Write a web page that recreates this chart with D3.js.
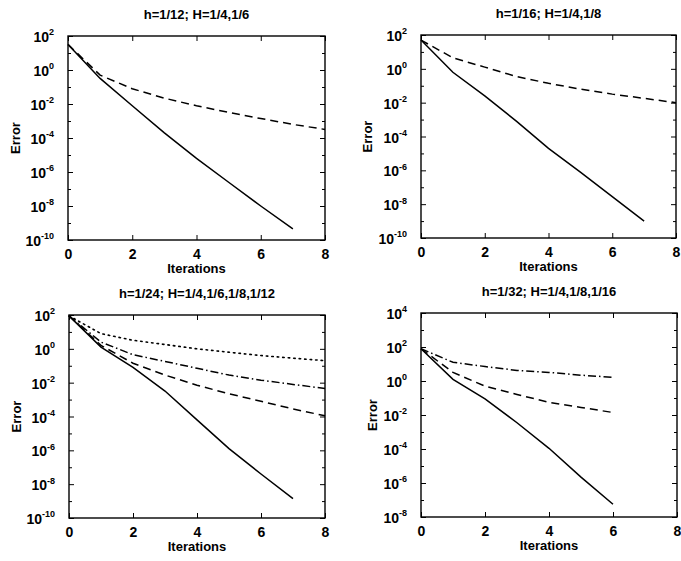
<!DOCTYPE html>
<html>
<head>
<meta charset="utf-8">
<script src="https://cdn.jsdelivr.net/npm/d3@7/dist/d3.min.js"></script>
<style>
  html, body { margin: 0; padding: 0; background: #fff; }
  svg { display: block; }
  text { font-family: "Liberation Sans", Arial, Helvetica, sans-serif; font-weight: bold; fill: #000; }
</style>
</head>
<body>
<svg id="chart" width="681" height="561"></svg>
<script>
// ---------------- data ----------------
const xTickValues = [0, 2, 4, 6, 8];
const xLabel = "Iterations";
const yLabel = "Error";

// Panel 1: h=1/12; H=1/4,1/6
const p1Title = "h=1/12; H=1/4,1/6";
const p1Iter = [0, 1, 2, 3, 4, 5, 6, 7, 8];
const p1Solid = [32, 0.32, 7.9e-3, 2e-4, 6.3e-6, 2.5e-7, 1e-8, 4.5e-10];
const p1Dashed = [32, 0.5, 7.9e-2, 2.2e-2, 7.9e-3, 3.2e-3, 1.4e-3, 6.3e-4, 3.2e-4];
const p1YTicks = [1e2, 1e0, 1e-2, 1e-4, 1e-6, 1e-8, 1e-10];

// Panel 2: h=1/16; H=1/4,1/8
const p2Title = "h=1/16; H=1/4,1/8";
const p2Iter = [0, 1, 2, 3, 4, 5, 6, 7, 8];
const p2Solid = [50, 0.63, 2.5e-2, 7.9e-4, 2e-5, 7.9e-7, 2.8e-8, 1e-9];
const p2Dashed = [50, 4.5, 1.26, 0.35, 0.14, 6.3e-2, 3.2e-2, 1.8e-2, 1e-2];
const p2YTicks = [1e2, 1e0, 1e-2, 1e-4, 1e-6, 1e-8, 1e-10];

// Panel 3: h=1/24; H=1/4,1/6,1/8,1/12
const p3Title = "h=1/24; H=1/4,1/6,1/8,1/12";
const p3Iter = [0, 1, 2, 3, 4, 5, 6, 7, 8];
const p3Solid = [89, 1.26, 7.9e-2, 3.2e-3, 6.3e-5, 1.26e-6, 4e-8, 1.4e-9];
const p3Dashed = [89, 1.6, 0.14, 2.8e-2, 7.1e-3, 2.2e-3, 7.9e-4, 2.8e-4, 1.1e-4];
const p3DashDot = [89, 2.5, 0.45, 0.18, 7.1e-2, 2.8e-2, 1.4e-2, 7.9e-3, 4.5e-3];
const p3Dotted = [89, 7.9, 3.2, 1.8, 1.0, 0.63, 0.4, 0.28, 0.2];
const p3YTicks = [1e2, 1e0, 1e-2, 1e-4, 1e-6, 1e-8, 1e-10];

// Panel 4: h=1/32; H=1/4,1/8,1/16
const p4Title = "h=1/32; H=1/4,1/8,1/16";
const p4Iter = [0, 1, 2, 3, 4, 5, 6];
const p4Solid = [79, 1.26, 8.9e-2, 3.5e-3, 1.1e-4, 2.2e-6, 5.6e-8];
const p4Dashed = [79, 3.2, 0.5, 0.16, 5.6e-2, 2.8e-2, 1.4e-2];
const p4DashDot = [79, 12.6, 7.1, 4.2, 3.2, 2.2, 1.66];
const p4YTicks = [1e4, 1e2, 1e0, 1e-2, 1e-4, 1e-6, 1e-8];

// ---------------- styles ----------------
const dashStyles = {
  solid: null,
  dashed: "8,5",
  dashdot: "8,3,1.5,3",
  dotted: "1.5,4"
};

const panels = [
  { title: p1Title, iter: p1Iter, yTicks: p1YTicks, box: [68, 36, 325, 240], ylabX: 15,
    series: [{ v: p1Solid, s: "solid" }, { v: p1Dashed, s: "dashed" }] },
  { title: p2Title, iter: p2Iter, yTicks: p2YTicks, box: [421, 35, 676, 238], ylabX: 367,
    series: [{ v: p2Solid, s: "solid" }, { v: p2Dashed, s: "dashed" }] },
  { title: p3Title, iter: p3Iter, yTicks: p3YTicks, box: [69, 315, 325, 518], ylabX: 16,
    series: [{ v: p3Solid, s: "solid" }, { v: p3Dashed, s: "dashed" },
             { v: p3DashDot, s: "dashdot" }, { v: p3Dotted, s: "dotted" }] },
  { title: p4Title, iter: p4Iter, yTicks: p4YTicks, box: [421, 313, 677, 517], ylabX: 372,
    series: [{ v: p4Solid, s: "solid" }, { v: p4Dashed, s: "dashed" },
             { v: p4DashDot, s: "dashdot" }] }
];

const svg = d3.select("#chart");

panels.forEach(p => {
  const [x0, y0, x1, y1] = p.box;
  const w = x1 - x0, h = y1 - y0;
  const yMax = d3.max(p.yTicks), yMin = d3.min(p.yTicks);
  const x = d3.scaleLinear().domain([0, 8]).range([0, w]);
  const y = d3.scaleLog().domain([yMin, yMax]).range([h, 0]);

  const g = svg.append("g").attr("transform", `translate(${x0},${y0})`);

  const decades = [];
  for (let e = Math.round(Math.log10(yMin)); e <= Math.round(Math.log10(yMax)); e++) decades.push(Math.pow(10, e));
  const minorDec = decades.filter(d => !p.yTicks.includes(d));

  const bx = g.append("g").attr("transform", `translate(0,${h})`)
    .call(d3.axisBottom(x).tickValues(xTickValues).tickSizeInner(-5).tickSizeOuter(0).tickPadding(9)
      .tickFormat(d3.format("d")));
  bx.selectAll("text").attr("font-size", 14).attr("dy", "0.72em");
  g.append("g").call(d3.axisTop(x).tickValues(xTickValues).tickSizeInner(-5).tickSizeOuter(0).tickFormat(""));
  const ly = g.append("g")
    .call(d3.axisLeft(y).tickValues(p.yTicks).tickSizeInner(-5).tickSizeOuter(0).tickPadding(16).tickFormat(""));
  ly.selectAll(".tick").each(function(d) {
    const t = d3.select(this).select("text");
    const e = Math.round(Math.log10(d));
    t.attr("font-size", 14).attr("dy", "0.4em").attr("text-anchor", "end").attr("x", -14);
    t.append("tspan").text("10");
    t.append("tspan").attr("font-size", 9).attr("dy", "-0.75em").text(e < 0 ? "-" + (-e) : String(e));
  });
  g.append("g").call(d3.axisLeft(y).tickValues(minorDec).tickSizeInner(-3).tickSizeOuter(0).tickFormat(""));
  g.append("g").attr("transform", `translate(${w},0)`)
    .call(d3.axisRight(y).tickValues(p.yTicks).tickSizeInner(-5).tickSizeOuter(0).tickFormat(""));
  g.append("g").attr("transform", `translate(${w},0)`)
    .call(d3.axisRight(y).tickValues(minorDec).tickSizeInner(-3).tickSizeOuter(0).tickFormat(""));

  g.selectAll(".domain").remove();
  g.selectAll(".tick line").attr("stroke", "#000").attr("stroke-width", 1);

  g.append("rect").attr("x", 0).attr("y", 0).attr("width", w).attr("height", h)
    .attr("fill", "none").attr("stroke", "#000").attr("stroke-width", 1.4);

  const line = d3.line().x((d, i) => x(p.iter[i])).y(d => y(d));
  p.series.forEach(s => {
    g.append("path").datum(s.v).attr("d", line)
      .attr("fill", "none").attr("stroke", "#000")
      .attr("stroke-width", s.s === "dotted" ? 1.6 : 1.5)
      .attr("stroke-linecap", s.s === "dotted" ? "round" : "butt")
      .attr("stroke-dasharray", dashStyles[s.s]);
  });

  svg.append("text").attr("x", x0 + w / 2).attr("y", y0 - 17)
    .attr("text-anchor", "middle").attr("font-size", 13).text(p.title);
  svg.append("text").attr("x", x0 + w / 2).attr("y", y1 + 33)
    .attr("text-anchor", "middle").attr("font-size", 13).text(xLabel);
  svg.append("text").attr("transform", `translate(${p.ylabX},${y0 + h / 2}) rotate(-90)`)
    .attr("text-anchor", "middle").attr("dy", "0.35em").attr("font-size", 13).text(yLabel);
});
</script>
</body>
</html>
